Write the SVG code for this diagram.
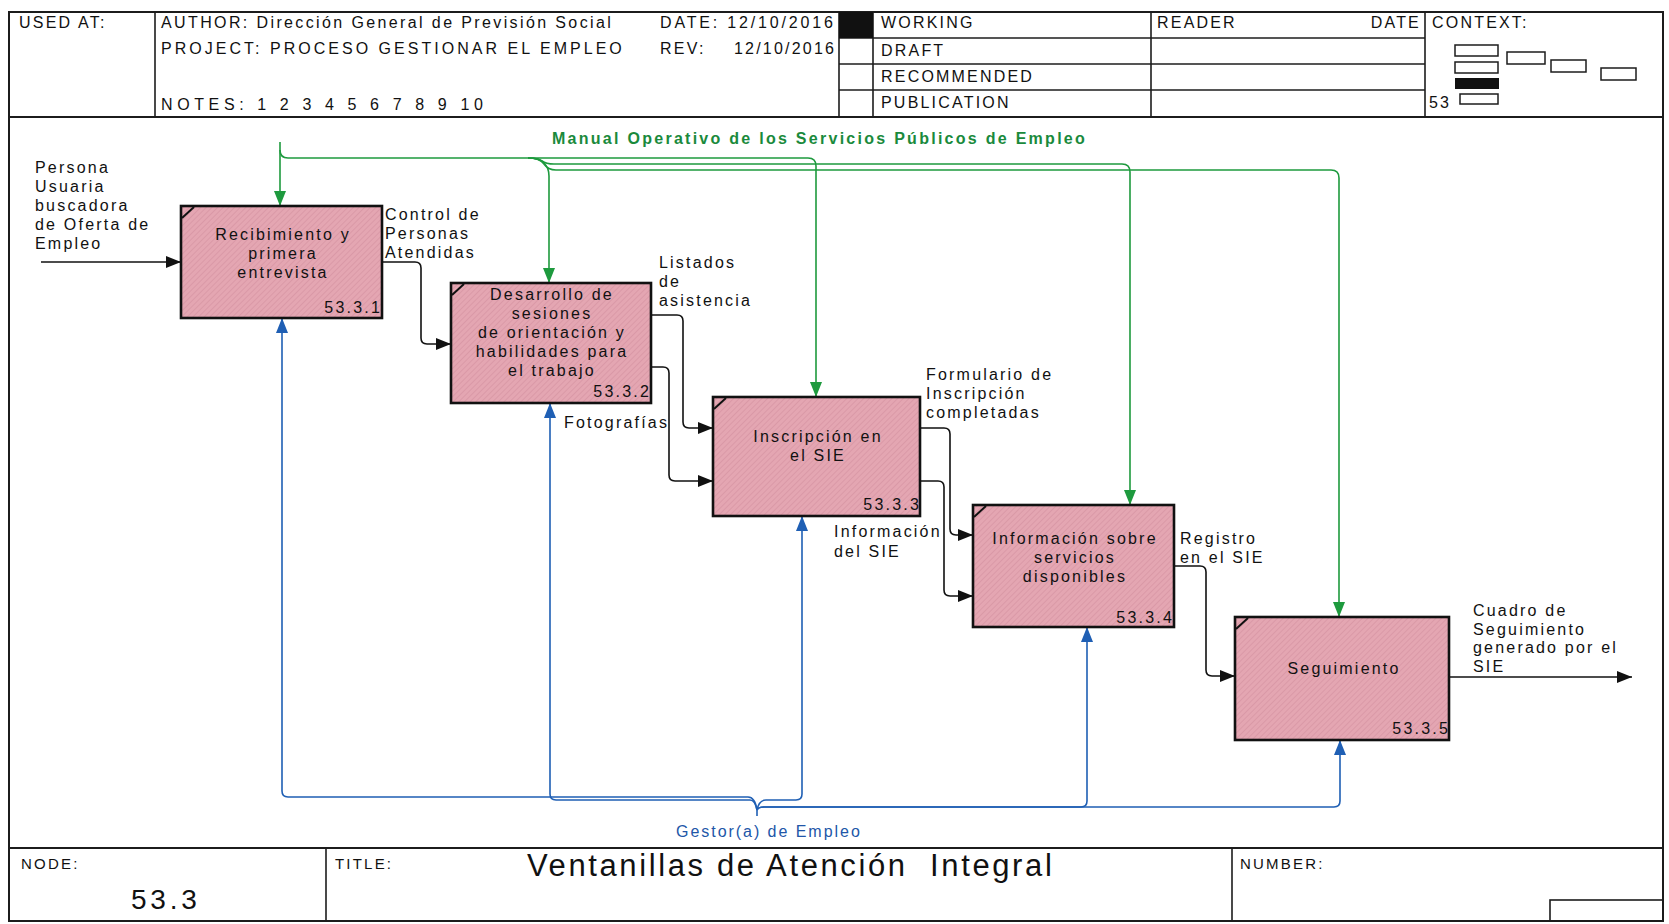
<svg xmlns="http://www.w3.org/2000/svg" width="1669" height="924" viewBox="0 0 1669 924">
  <defs>
    <!-- fine diagonal hatch used as the activity box fill -->
    <pattern id="hatch" patternUnits="userSpaceOnUse" width="4" height="4" patternTransform="rotate(45)">
      <rect width="4" height="4" fill="#e4a6b2"/>
      <line x1="0" y1="0" x2="0" y2="4" stroke="#d4919f" stroke-width="1.2"/>
    </pattern>
    <marker id="ah-k" markerUnits="userSpaceOnUse" markerWidth="16" markerHeight="12" refX="15" refY="6" orient="auto">
      <path d="M0,0 L15,6 L0,12 z" fill="#111"/>
    </marker>
    <marker id="ah-g" markerUnits="userSpaceOnUse" markerWidth="16" markerHeight="12" refX="15" refY="6" orient="auto">
      <path d="M0,0 L15,6 L0,12 z" fill="#1e9a3e"/>
    </marker>
    <marker id="ah-b" markerUnits="userSpaceOnUse" markerWidth="16" markerHeight="12" refX="15" refY="6" orient="auto">
      <path d="M0,0 L15,6 L0,12 z" fill="#1f5fb4"/>
    </marker>
    <style>
      .frame { fill: none; stroke: #1c1c1c; stroke-width: 2; }
      .rule { fill: none; stroke: #1c1c1c; stroke-width: 1.6; }
      .ctx { fill: none; stroke: #1c1c1c; stroke-width: 1.5; }
      text { font-family: "Liberation Sans", Arial, sans-serif; font-size: 16px; fill: #111; letter-spacing: 2.2px; }
      .mid { text-anchor: middle; }
      .end { text-anchor: end; }
      .box { fill: url(#hatch); stroke: #111; stroke-width: 2.6; }
      .tick { stroke: #111; stroke-width: 2; }
      .flow { fill: none; stroke: #111; stroke-width: 1.6; }
      .ctl { fill: none; stroke: #1e9a3e; stroke-width: 1.6; }
      .mech { fill: none; stroke: #1f5fb4; stroke-width: 1.6; }
      .ctl-t { fill: #1a8a3c; font-weight: bold; }
      .mech-t { fill: #2156a8; }
      .title { font-size: 31px; }
      .node { font-size: 28px; }
      .small { font-size: 15px; }
    </style>
  </defs>

  <rect width="1669" height="924" fill="#fff"/>

  <!-- form frame -->
  <g id="form">
    <rect class="frame" x="9" y="12" width="1654" height="909"/>
    <line class="frame" x1="9" y1="117" x2="1663" y2="117"/>
    <line class="frame" x1="9" y1="848" x2="1663" y2="848"/>
    <line class="rule" x1="155" y1="12" x2="155" y2="117"/>
    <line class="rule" x1="839" y1="12" x2="839" y2="117"/>
    <line class="rule" x1="873" y1="12" x2="873" y2="117"/>
    <line class="rule" x1="1151" y1="12" x2="1151" y2="117"/>
    <line class="rule" x1="1425" y1="12" x2="1425" y2="117"/>
    <line class="rule" x1="839" y1="38" x2="1425" y2="38"/>
    <line class="rule" x1="839" y1="64" x2="1425" y2="64"/>
    <line class="rule" x1="839" y1="90" x2="1425" y2="90"/>
    <rect x="839" y="12" width="34" height="26" fill="#111"/>
    <line class="rule" x1="326" y1="848" x2="326" y2="921"/>
    <line class="rule" x1="1232" y1="848" x2="1232" y2="921"/>
    <rect class="rule" x="1550" y="900" width="113" height="21"/>

    <text x="19" y="28">USED AT:</text>
    <text x="161" y="28" textLength="452">AUTHOR:  Dirección General de Previsión Social</text>
    <text x="161" y="54" textLength="463">PROJECT:  PROCESO GESTIONAR EL EMPLEO</text>
    <text x="161" y="110" textLength="324">NOTES:  1  2  3  4  5  6  7  8  9  10</text>
    <text x="660" y="28" textLength="175">DATE: 12/10/2016</text>
    <text x="660" y="54">REV:<tspan x="734">12/10/2016</tspan></text>

    <text x="881" y="28">WORKING</text>
    <text x="881" y="56">DRAFT</text>
    <text x="881" y="82">RECOMMENDED</text>
    <text x="881" y="108">PUBLICATION</text>
    <text x="1157" y="28">READER</text>
    <text class="end" x="1421" y="28">DATE</text>
    <text x="1432" y="28">CONTEXT:</text>

    <rect class="ctx" x="1455" y="45" width="43" height="11"/>
    <rect class="ctx" x="1507" y="52" width="38" height="12"/>
    <rect class="ctx" x="1455" y="62" width="43" height="11"/>
    <rect class="ctx" x="1551" y="60" width="35" height="12"/>
    <rect x="1455" y="78" width="44" height="11" fill="#111"/>
    <rect class="ctx" x="1601" y="68" width="35" height="12"/>
    <rect class="ctx" x="1460" y="94" width="38" height="10"/>
    <text x="1429" y="108">53</text>

    <text class="small" x="21" y="869">NODE:</text>
    <text class="node" x="131" y="909" textLength="68">53.3</text>
    <text class="small" x="335" y="869">TITLE:</text>
    <text class="title" x="527" y="876" textLength="527">Ventanillas de Atención&#160; Integral</text>
    <text class="small" x="1240" y="869">NUMBER:</text>
  </g>

  <!-- connectors -->
  <g id="connectors">
    <!-- inputs / outputs -->
    <path class="flow" marker-end="url(#ah-k)" d="M41,262 H181"/>
    <path class="flow" marker-end="url(#ah-k)" d="M383,262 H415 Q421,262 421,268 V338 Q421,344 427,344 H451"/>
    <path class="flow" marker-end="url(#ah-k)" d="M651,315 H677 Q683,315 683,321 V422 Q683,428 689,428 H713"/>
    <path class="flow" marker-end="url(#ah-k)" d="M651,367 H663 Q669,367 669,373 V475 Q669,481 675,481 H713"/>
    <path class="flow" marker-end="url(#ah-k)" d="M920,428 H944 Q950,428 950,434 V529 Q950,535 956,535 H973"/>
    <path class="flow" marker-end="url(#ah-k)" d="M920,481 H938 Q944,481 944,487 V590 Q944,596 950,596 H973"/>
    <path class="flow" marker-end="url(#ah-k)" d="M1174,566 H1200 Q1206,566 1206,572 V670 Q1206,676 1212,676 H1235"/>
    <path class="flow" marker-end="url(#ah-k)" d="M1450,677 H1632"/>

    <!-- controls -->
    <path class="ctl" marker-end="url(#ah-g)" d="M280,142 V206"/>
    <path class="ctl" marker-end="url(#ah-g)" d="M280,150 Q280,158 288,158 H808 Q816,158 816,166 V397"/>
    <path class="ctl" marker-end="url(#ah-g)" d="M528,158 Q540,158 544,163 Q549,168 549,176 V283"/>
    <path class="ctl" marker-end="url(#ah-g)" d="M528,158 Q538,158 542,161 Q546,164 554,164 H1122 Q1130,164 1130,172 V505"/>
    <path class="ctl" marker-end="url(#ah-g)" d="M528,158 Q540,158 544,164 Q548,170 556,170 H1331 Q1339,170 1339,178 V617"/>

    <!-- mechanisms -->
    <path class="mech" d="M757,816 V810"/>
    <path class="mech" marker-end="url(#ah-b)" d="M757,810 Q755,797 748,797 H288 Q282,797 282,791 V318"/>
    <path class="mech" marker-end="url(#ah-b)" d="M757,810 Q755,800 750,800 H556 Q550,800 550,794 V403"/>
    <path class="mech" marker-end="url(#ah-b)" d="M757,810 Q759,800 766,800 H796 Q802,800 802,794 V516"/>
    <path class="mech" marker-end="url(#ah-b)" d="M757,810 Q758,807 764,807 H1081 Q1087,807 1087,801 V627"/>
    <path class="mech" marker-end="url(#ah-b)" d="M757,810 Q758,807 764,807 H1334 Q1340,807 1340,801 V740"/>

    <!-- arrow labels -->
    <text><tspan x="35" y="173">Persona</tspan><tspan x="35" y="192">Usuaria</tspan><tspan x="35" y="211">buscadora</tspan><tspan x="35" y="230">de Oferta de</tspan><tspan x="35" y="249">Empleo</tspan></text>
    <text><tspan x="385" y="220">Control de</tspan><tspan x="385" y="239">Personas</tspan><tspan x="385" y="258">Atendidas</tspan></text>
    <text><tspan x="659" y="268">Listados</tspan><tspan x="659" y="287">de</tspan><tspan x="659" y="306">asistencia</tspan></text>
    <text x="564" y="428">Fotografías</text>
    <text><tspan x="926" y="380">Formulario de</tspan><tspan x="926" y="399">Inscripción</tspan><tspan x="926" y="418">completadas</tspan></text>
    <text><tspan x="834" y="537">Información</tspan><tspan x="834" y="557">del SIE</tspan></text>
    <text><tspan x="1180" y="544">Registro</tspan><tspan x="1180" y="563">en el SIE</tspan></text>
    <text><tspan x="1473" y="616">Cuadro de</tspan><tspan x="1473" y="635">Seguimiento</tspan><tspan x="1473" y="653">generado por el</tspan><tspan x="1473" y="672">SIE</tspan></text>
    <text class="ctl-t" x="552" y="144" textLength="535">Manual Operativo de los Servicios Públicos de Empleo</text>
    <text class="mech-t" x="676" y="837" textLength="186">Gestor(a) de Empleo</text>
  </g>

  <!-- activities -->
  <g id="a1">
    <rect class="box" x="181" y="206" width="201" height="112"/>
    <line class="tick" x1="182" y1="218" x2="194" y2="207"/>
    <text class="mid"><tspan x="283" y="239.5">Recibimiento y</tspan><tspan x="283" y="258.5">primera</tspan><tspan x="283" y="277.5">entrevista</tspan></text>
    <text class="end" x="382" y="313">53.3.1</text>
  </g>
  <g id="a2">
    <rect class="box" x="451" y="283" width="200" height="120"/>
    <line class="tick" x1="452" y1="295" x2="464" y2="284"/>
    <text class="mid"><tspan x="552" y="299.5">Desarrollo de</tspan><tspan x="552" y="318.5">sesiones</tspan><tspan x="552" y="337.5">de orientación y</tspan><tspan x="552" y="356.5">habilidades para</tspan><tspan x="552" y="375.5">el trabajo</tspan></text>
    <text class="end" x="651" y="397">53.3.2</text>
  </g>
  <g id="a3">
    <rect class="box" x="713" y="397" width="207" height="119"/>
    <line class="tick" x1="714" y1="409" x2="726" y2="398"/>
    <text class="mid"><tspan x="818" y="442">Inscripción en</tspan><tspan x="818" y="461">el SIE</tspan></text>
    <text class="end" x="921" y="510">53.3.3</text>
  </g>
  <g id="a4">
    <rect class="box" x="973" y="505" width="201" height="122"/>
    <line class="tick" x1="974" y1="517" x2="986" y2="506"/>
    <text class="mid"><tspan x="1075" y="543.5">Información sobre</tspan><tspan x="1075" y="562.5">servicios</tspan><tspan x="1075" y="582">disponibles</tspan></text>
    <text class="end" x="1174" y="622.5">53.3.4</text>
  </g>
  <g id="a5">
    <rect class="box" x="1235" y="617" width="214" height="123"/>
    <line class="tick" x1="1236" y1="629" x2="1248" y2="618"/>
    <text class="mid" x="1344" y="674">Seguimiento</text>
    <text class="end" x="1450" y="734">53.3.5</text>
  </g>
</svg>
